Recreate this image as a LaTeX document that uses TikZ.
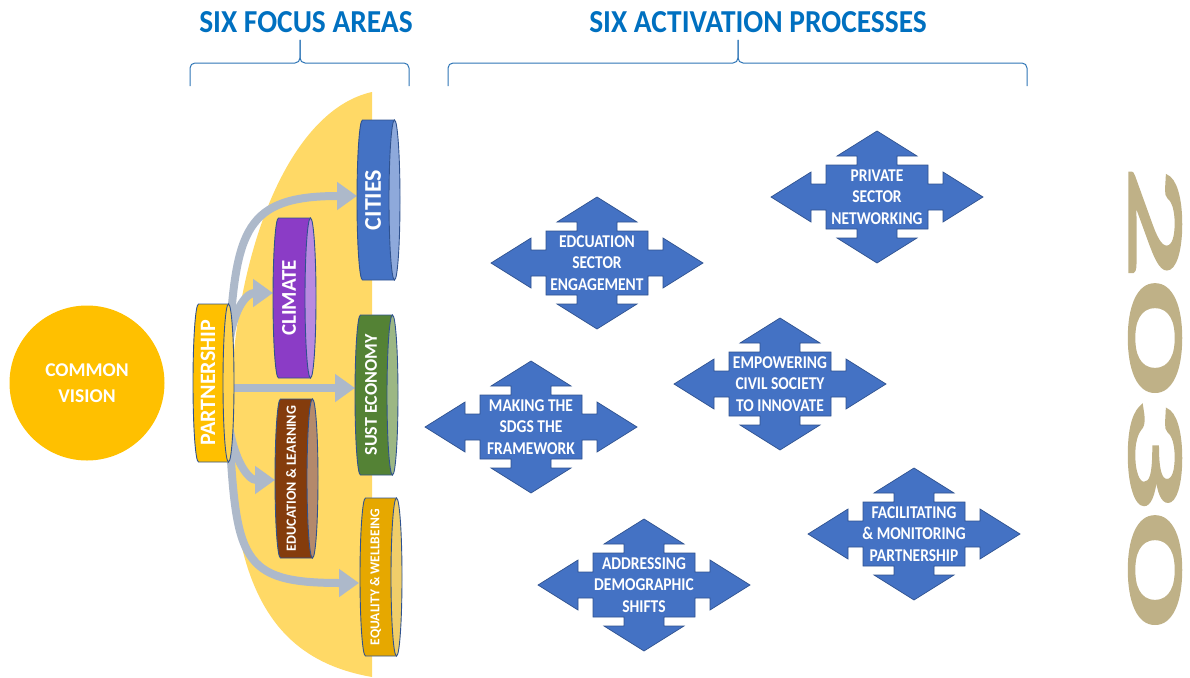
\documentclass[tikz,border=0pt]{standalone}
\usepackage{fontspec}
\setmainfont{Carlito}
\newfontfamily\yearfont[FakeBold=2.5]{Carlito}
\usetikzlibrary{arrows.meta}

\definecolor{titleblue}{HTML}{0070C0}
\definecolor{braceblue}{HTML}{2E75B6}
\definecolor{focusbg}{HTML}{FFD966}
\definecolor{flowgrey}{HTML}{ADB9CA}
\definecolor{canline}{HTML}{2F528F}
\definecolor{procblue}{HTML}{4472C4}
\definecolor{visiongold}{HTML}{FFC000}
\definecolor{yeartan}{HTML}{BFB187}
\definecolor{citiesbody}{HTML}{4472C4}
\definecolor{citiesface}{HTML}{8EA9DB}
\definecolor{climatebody}{HTML}{8B3CC6}
\definecolor{climateface}{HTML}{B98AE0}
\definecolor{economybody}{HTML}{548235}
\definecolor{economyface}{HTML}{9CB784}
\definecolor{learningbody}{HTML}{843C0C}
\definecolor{learningface}{HTML}{B4896B}
\definecolor{equalitybody}{HTML}{E6A800}
\definecolor{equalityface}{HTML}{F0CE6A}
\definecolor{partnerbody}{HTML}{FFC000}
\definecolor{partnerface}{HTML}{FFD34F}

\tikzset{
  canedge/.style={draw=canline, line width=0.9pt},
  cantext/.style={text=white, rotate=90, inner sep=0pt},
  procshape/.style={fill=procblue, draw=canline, line width=0.7pt},
  proctext/.style={text=white, align=center, inner sep=0pt,
    font=\bfseries\fontsize{18}{21.5}\selectfont},
  flow/.style={draw=flowgrey, line width=8pt,
    -{Triangle[length=20pt,width=27pt]}},
  braceline/.style={draw=braceblue, line width=1pt, rounded corners=5pt},
  titletext/.style={text=titleblue, font=\bfseries\fontsize{32}{32}\selectfont},
  visioncircle/.style={circle, fill=visiongold, minimum size=155pt,
    text=white, align=center, font=\bfseries\fontsize{19.5}{26}\selectfont},
  yeartext/.style={text=yeartan, rotate=-90, inner sep=0pt,
    font=\yearfont\fontsize{80}{80}\selectfont}
}

\newcommand{\canrx}{5.5}
% can lying on its side: name, x0, y0, x1, y1, body, face, text, size
\newcommand{\focuscan}[9]{
  \pgfmathsetmacro{\canry}{(#5-#3)/2}
  \pgfmathsetmacro{\canym}{(#5+#3)/2}
  \pgfmathsetmacro{\canxm}{(#2+#4)/2-\canrx}
  \filldraw[canedge, fill=#6] (#4-\canrx, #3) -- (#2+\canrx, #3)
    arc[start angle=-90, end angle=-270, x radius=\canrx, y radius=\canry]
    -- (#4-\canrx, #5) -- cycle;
  \filldraw[canedge, fill=#7] (#4-\canrx, \canym)
    ellipse[x radius=\canrx, y radius=\canry];
  \node[cantext, font=\bfseries\fontsize{#9}{#9}\selectfont]
    (#1) at (\canxm, \canym) {#8};
}
% four way arrow: name, x, y, text
\newcommand{\procarrow}[4]{
  \begin{scope}[shift={(#2,#3)}]
    \filldraw[procshape] (106,0) -- (66,-25) -- (66,-13) -- (51,-13)
      -- (51,-32) -- (20,-32) -- (20,-41) -- (40,-41) -- (0,-66)
      -- (-40,-41) -- (-20,-41) -- (-20,-32) -- (-51,-32) -- (-51,-13)
      -- (-66,-13) -- (-66,-25) -- (-106,0) -- (-66,25) -- (-66,13)
      -- (-51,13) -- (-51,32) -- (-20,32) -- (-20,41) -- (-40,41)
      -- (0,66) -- (40,41) -- (20,41) -- (20,32) -- (51,32) -- (51,13)
      -- (66,13) -- (66,25) -- cycle;
    \node[proctext, transform shape, xscale=0.86] (#1) at (0,0) {#4};
  \end{scope}
}

\begin{document}
\begin{tikzpicture}[x=1pt, y=-1pt]
  \useasboundingbox (0,0) rectangle (1190,677);

  % headings
  \node[titletext, xscale=0.92, transform shape] (focustitle) at (306,22) {SIX FOCUS AREAS};
  \node[titletext, xscale=0.92, transform shape] (activetitle) at (758,22) {SIX ACTIVATION PROCESSES};
  \draw[braceline] (190,86) |- (300,63) -- (300,40);
  \draw[braceline] (409,86) |- (300,63) -- (300,40);
  \draw[braceline] (448,86) |- (738,63) -- (738,40);
  \draw[braceline] (1027,86) |- (738,63) -- (738,40);

  % focus area backdrop
  \fill[focusbg] (372,92) .. controls (290,110) and (232,250) .. (230,420)
    .. controls (229,590) and (275,660) .. (372,677) -- cycle;

  \node[visioncircle] (vision) at (87,383) {COMMON\\VISION};

  % arrows out of the partnership
  \coordinate (partnership-up) at (229,345);
  \coordinate (partnership-out) at (229,388);
  \coordinate (partnership-down) at (229,425);
  \coordinate (cities-in) at (357,196);
  \coordinate (climate-in) at (273,293);
  \coordinate (economy-in) at (355,388);
  \coordinate (learning-in) at (275,480);
  \coordinate (equality-in) at (359,583);
  \draw[flow] (partnership-up) .. controls (236,230) and (245,196) .. (cities-in);
  \draw[flow] (partnership-up) .. controls (234,305) and (248,293) .. (climate-in);
  \draw[flow] (partnership-out) -- (economy-in);
  \draw[flow] (partnership-down) .. controls (234,460) and (248,480) .. (learning-in);
  \draw[flow] (partnership-down) .. controls (236,560) and (240,583) .. (equality-in);

  % focus areas
  \focuscan{cities}{357}{120}{400}{280}{citiesbody}{citiesface}{CITIES}{24}
  \focuscan{climate}{273}{218}{316}{378}{climatebody}{climateface}{CLIMATE}{21}
  \focuscan{economy}{355}{315}{398}{475}{economybody}{economyface}{SUST ECONOMY}{18}
  \focuscan{learning}{275}{399}{318}{558}{learningbody}{learningface}{EDUCATION \& LEARNING}{14}
  \focuscan{equality}{360}{498}{402}{656}{equalitybody}{equalityface}{EQUALITY \& WELLBEING}{13.5}
  \focuscan{partnership}{193}{304}{234}{462}{partnerbody}{partnerface}{PARTNERSHIP}{22}

  % activation processes
  \procarrow{education}{597}{263}{EDCUATION\\SECTOR\\ENGAGEMENT}
  \procarrow{private}{877}{197}{PRIVATE\\SECTOR\\NETWORKING}
  \procarrow{civil}{780}{384}{EMPOWERING\\CIVIL SOCIETY\\TO INNOVATE}
  \procarrow{sdgs}{531}{427}{MAKING THE\\SDGS THE\\FRAMEWORK}
  \procarrow{demographic}{644}{585}{ADDRESSING\\DEMOGRAPHIC\\SHIFTS}
  \procarrow{facilitating}{914}{534}{FACILITATING\\\& MONITORING\\PARTNERSHIP}

  \node[yeartext] (year) at (1155,396) {\scalebox{2.86}[1]{2030}};
\end{tikzpicture}
\end{document}
